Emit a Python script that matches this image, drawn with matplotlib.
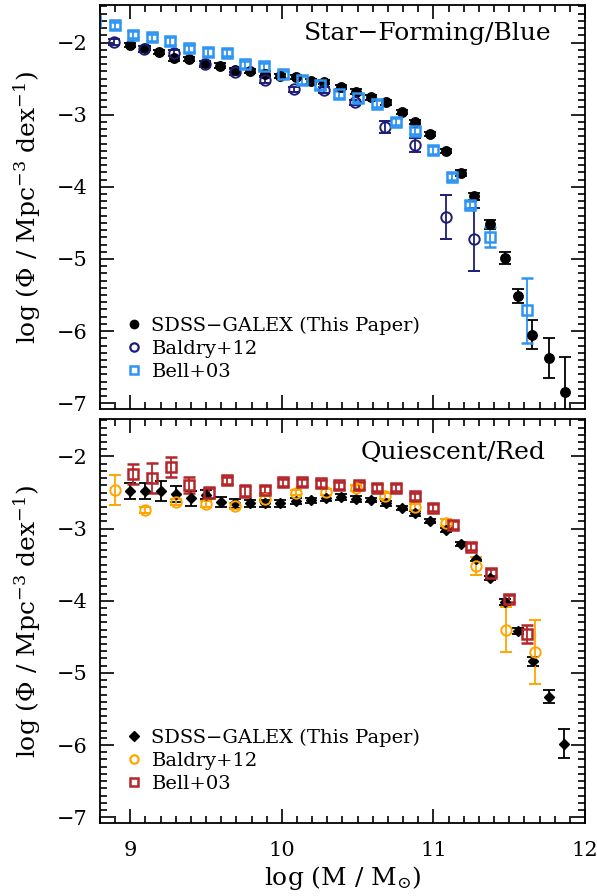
import matplotlib
matplotlib.use("Agg")
import matplotlib.pyplot as plt
from matplotlib.lines import Line2D
from matplotlib.ticker import MultipleLocator

plt.rcParams['font.family'] = ['DejaVu Serif']
plt.rcParams['mathtext.fontset'] = 'dejavuserif'
plt.rcParams['mathtext.default'] = 'regular'

# ---- Star-forming / blue panel ----
sf_x = [9.00, 9.10, 9.19, 9.29, 9.39, 9.49, 9.59, 9.69, 9.79, 9.89, 9.99, 10.09, 10.19,
        10.28, 10.39, 10.49, 10.59, 10.69, 10.79, 10.88, 10.98, 11.08, 11.18, 11.27,
        11.37, 11.47, 11.56, 11.65, 11.76, 11.87]
sf_y = [-2.03, -2.08, -2.13, -2.22, -2.23, -2.29, -2.32, -2.38, -2.39, -2.43, -2.46, -2.48,
        -2.54, -2.55, -2.62, -2.68, -2.76, -2.83, -2.96, -3.10, -3.27, -3.50, -3.81, -4.13,
        -4.52, -4.99, -5.51, -6.05, -6.37, -6.85]
sf_err = [0.03, 0.03, 0.03, 0.03, 0.03, 0.03, 0.03, 0.03, 0.03, 0.03, 0.03, 0.03, 0.03,
          0.03, 0.03, 0.03, 0.03, 0.03, 0.03, 0.03, 0.03, 0.03, 0.04, 0.05,
          0.06, 0.08, 0.10, 0.20, 0.28, 0.49]

bal_sf_x = [8.89, 9.09, 9.29, 9.49, 9.69, 9.89, 10.08, 10.28, 10.48, 10.68, 10.88, 11.08, 11.27]
bal_sf_y = [-1.99, -2.09, -2.15, -2.30, -2.41, -2.52, -2.65, -2.66, -2.83, -3.17, -3.42, -4.42, -4.73]
bal_sf_err = [0.04, 0.04, 0.04, 0.04, 0.04, 0.04, 0.04, 0.04, 0.04, 0.08, 0.10, 0.31, 0.44]

bell_sf_x = [8.77, 8.90, 9.02, 9.14, 9.26, 9.39, 9.51, 9.64, 9.76, 9.88, 10.01, 10.13, 10.25,
             10.38, 10.50, 10.63, 10.75, 10.88, 11.00, 11.12, 11.24, 11.37, 11.62]
bell_sf_y = [-1.70, -1.76, -1.89, -1.93, -1.98, -2.08, -2.13, -2.14, -2.30, -2.33, -2.44, -2.52,
             -2.59, -2.72, -2.77, -2.85, -3.10, -3.22, -3.49, -3.86, -4.25, -4.70, -5.71]
bell_sf_err = [0.05, 0.05, 0.05, 0.05, 0.05, 0.05, 0.05, 0.05, 0.05, 0.05, 0.05, 0.05,
               0.05, 0.05, 0.05, 0.05, 0.05, 0.05, 0.05, 0.05, 0.05, 0.14, 0.45]

# ---- Quiescent / red panel ----
q_x = [9.00, 9.10, 9.20, 9.30, 9.40, 9.50, 9.60, 9.69, 9.79, 9.89, 9.99, 10.09, 10.19, 10.29,
       10.39, 10.49, 10.59, 10.69, 10.79, 10.88, 10.98, 11.08, 11.18, 11.28, 11.37, 11.47,
       11.56, 11.66, 11.76, 11.86]
q_y = [-2.48, -2.48, -2.48, -2.52, -2.58, -2.53, -2.63, -2.65, -2.65, -2.65, -2.65, -2.62,
       -2.61, -2.58, -2.56, -2.59, -2.60, -2.65, -2.71, -2.79, -2.89, -3.02, -3.21, -3.42,
       -3.68, -4.02, -4.42, -4.84, -5.33, -5.98]
q_err = [0.11, 0.11, 0.14, 0.11, 0.10, 0.06, 0.07, 0.06, 0.05, 0.05, 0.05, 0.04, 0.04, 0.04,
         0.04, 0.04, 0.03, 0.03, 0.03, 0.03, 0.03, 0.03, 0.03, 0.03, 0.03, 0.04,
         0.04, 0.06, 0.09, 0.20]

bal_q_x = [8.90, 9.10, 9.30, 9.50, 9.69, 9.89, 10.09, 10.29, 10.49, 10.68, 10.88, 11.08, 11.28,
           11.48, 11.67]
bal_q_y = [-2.46, -2.74, -2.63, -2.66, -2.69, -2.59, -2.50, -2.49, -2.44, -2.55, -2.70, -2.92,
           -3.52, -4.40, -4.71]
bal_q_err = [0.21, 0.04, 0.04, 0.04, 0.04, 0.04, 0.04, 0.04, 0.04, 0.04, 0.04, 0.05,
             0.12, 0.31, 0.44]

bell_q_x = [9.02, 9.14, 9.27, 9.39, 9.52, 9.64, 9.76, 9.89, 10.01, 10.13, 10.26, 10.38, 10.51,
            10.63, 10.75, 10.88, 11.00, 11.13, 11.25, 11.38, 11.50, 11.62]
bell_q_y = [-2.24, -2.30, -2.15, -2.40, -2.50, -2.33, -2.48, -2.46, -2.36, -2.36, -2.37, -2.40,
            -2.40, -2.43, -2.43, -2.55, -2.71, -2.95, -3.25, -3.61, -3.97, -4.46]
bell_q_err = [0.14, 0.21, 0.14, 0.11, 0.08, 0.05, 0.08, 0.05, 0.05, 0.05, 0.05, 0.05, 0.05,
              0.05, 0.05, 0.05, 0.05, 0.05, 0.05, 0.05, 0.05, 0.12]

legend_labels = ['SDSS\u2212GALEX (This Paper)', 'Baldry+12', 'Bell+03']

navy = '#1d1d78'
lblue = '#2f95f5'
orange = '#ffa500'
red = '#b5262a'

fig = plt.figure(figsize=(5.97, 8.96), dpi=100)
ax1 = fig.add_axes([0.1675, 0.5435, 0.8124, 0.4509])
ax2 = fig.add_axes([0.1675, 0.0815, 0.8124, 0.4509])

eb = dict(ls='none', elinewidth=1.3, capsize=4, capthick=1.3)

# top panel
ax1.errorbar(sf_x, sf_y, yerr=sf_err, fmt='o', color='black', ms=6.8, **eb)
ax1.errorbar(bal_sf_x, bal_sf_y, yerr=bal_sf_err, fmt='o', color=navy, mfc='none',
             mec=navy, ms=7.5, mew=1.4, **eb)
ax1.errorbar(bell_sf_x, bell_sf_y, yerr=bell_sf_err, fmt='s', color=lblue, mfc='none',
             mec=lblue, ms=7, mew=1.8, **eb)

# bottom panel
ax2.errorbar(q_x, q_y, yerr=q_err, fmt='D', color='black', ms=5, **eb)
ax2.errorbar(bal_q_x, bal_q_y, yerr=bal_q_err, fmt='o', color=orange, mfc='none',
             mec=orange, ms=7.5, mew=1.4, **eb)
ax2.errorbar(bell_q_x, bell_q_y, yerr=bell_q_err, fmt='s', color=red, mfc='none',
             mec=red, ms=7, mew=1.8, **eb)

for ax in (ax1, ax2):
    ax.set_xlim(8.8, 12.0)
    ax.set_ylim(-7.08, -1.48)
    ax.xaxis.set_major_locator(MultipleLocator(1))
    ax.xaxis.set_minor_locator(MultipleLocator(0.1))
    ax.yaxis.set_major_locator(MultipleLocator(1))
    ax.yaxis.set_minor_locator(MultipleLocator(0.1))
    ax.tick_params(which='both', direction='in', top=True, right=True, labelsize=15, width=1.2)
    ax.tick_params(which='major', length=10)
    ax.tick_params(which='minor', length=5)
    ax.tick_params(axis='y', which='major', pad=9)
    ax.tick_params(axis='x', which='major', pad=13)
    for s in ax.spines.values():
        s.set_linewidth(1.3)
    ax.set_ylabel('log (\u03a6 / Mpc$^{-3}$ dex$^{-1}$)', fontsize=18, labelpad=10)

ax1.tick_params(labelbottom=False)
ax2.set_xlabel('log (M / M$_{\\odot}$)', fontsize=18, labelpad=3)

ax1.text(0.93, 0.93, 'Star\u2212Forming/Blue', transform=ax1.transAxes, ha='right',
         va='center', fontsize=18)
ax2.text(0.918, 0.918, 'Quiescent/Red', transform=ax2.transAxes, ha='right',
         va='center', fontsize=18)

h1 = [Line2D([], [], ls='none', marker='o', color='black', ms=6),
      Line2D([], [], ls='none', marker='o', mfc='none', mec=navy, ms=6, mew=1.6),
      Line2D([], [], ls='none', marker='s', mfc='none', mec=lblue, ms=6, mew=1.8)]
h2 = [Line2D([], [], ls='none', marker='D', color='black', ms=5),
      Line2D([], [], ls='none', marker='o', mfc='none', mec=orange, ms=6, mew=1.6),
      Line2D([], [], ls='none', marker='s', mfc='none', mec=red, ms=6, mew=1.8)]
for ax, h, yb in ((ax1, h1, 0.051), (ax2, h2, 0.055)):
    ax.legend(h, legend_labels, loc='lower left', bbox_to_anchor=(0.042, yb),
              frameon=False, fontsize=14, handlelength=0.6, handletextpad=0.6,
              labelspacing=0.25, borderaxespad=0)

fig.savefig('out.png', dpi=100)
